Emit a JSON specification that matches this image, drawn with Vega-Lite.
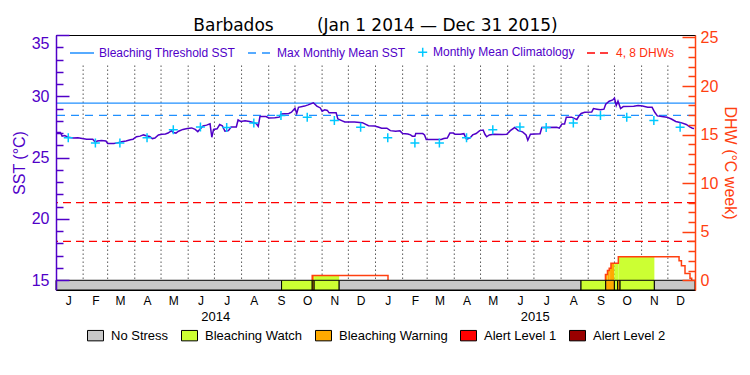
{
  "$schema": "https://vega.github.io/schema/vega-lite/v6.json",
  "width": 639,
  "height": 255,
  "autosize": {"type": "none"},
  "padding": {"left": 56, "top": 35, "right": 55, "bottom": 85},
  "title": {"text": "Barbados\u00a0\u00a0\u00a0\u00a0\u00a0\u00a0\u00a0\u00a0(Jan 1 2014 \u2014 Dec 31 2015)", "font": "DejaVu Sans", "fontSize": 17, "fontWeight": "normal", "color": "black", "anchor": "middle", "frame": "group", "baseline": "alphabetic", "offset": 6, "dy": 25},
  "datasets": {
    "sst": [
      {"date":"2014-01-01","sst":27.05},{"date":"2014-01-06","sst":27.05},{"date":"2014-01-08","sst":26.75},{"date":"2014-01-11","sst":26.8},{"date":"2014-01-15","sst":26.65},{"date":"2014-01-21","sst":26.6},{"date":"2014-01-26","sst":26.62},{"date":"2014-01-31","sst":26.55},{"date":"2014-02-05","sst":26.5},{"date":"2014-02-12","sst":26.5},{"date":"2014-02-15","sst":26.25},{"date":"2014-02-17","sst":26.35},{"date":"2014-02-22","sst":26.4},{"date":"2014-02-27","sst":26.35},{"date":"2014-03-01","sst":26.15},{"date":"2014-03-08","sst":26.15},{"date":"2014-03-12","sst":26.2},{"date":"2014-03-17","sst":26.3},{"date":"2014-03-22","sst":26.35},{"date":"2014-03-27","sst":26.45},{"date":"2014-03-30","sst":26.5},{"date":"2014-04-03","sst":26.7},{"date":"2014-04-07","sst":26.75},{"date":"2014-04-11","sst":26.85},{"date":"2014-04-14","sst":26.78},{"date":"2014-04-18","sst":26.72},{"date":"2014-04-21","sst":26.55},{"date":"2014-04-24","sst":26.6},{"date":"2014-04-28","sst":26.85},{"date":"2014-05-02","sst":26.9},{"date":"2014-05-06","sst":26.93},{"date":"2014-05-09","sst":27.0},{"date":"2014-05-13","sst":27.2},{"date":"2014-05-15","sst":27.05},{"date":"2014-05-18","sst":27.0},{"date":"2014-05-21","sst":27.15},{"date":"2014-05-26","sst":27.3},{"date":"2014-05-31","sst":27.38},{"date":"2014-06-05","sst":27.42},{"date":"2014-06-09","sst":27.3},{"date":"2014-06-12","sst":27.12},{"date":"2014-06-15","sst":27.35},{"date":"2014-06-18","sst":27.58},{"date":"2014-06-22","sst":27.65},{"date":"2014-06-26","sst":27.75},{"date":"2014-06-28","sst":26.66},{"date":"2014-06-30","sst":27.3},{"date":"2014-07-04","sst":27.35},{"date":"2014-07-07","sst":27.7},{"date":"2014-07-10","sst":27.6},{"date":"2014-07-13","sst":27.15},{"date":"2014-07-17","sst":27.2},{"date":"2014-07-20","sst":27.5},{"date":"2014-07-26","sst":27.5},{"date":"2014-07-28","sst":28.07},{"date":"2014-07-31","sst":27.95},{"date":"2014-08-05","sst":28.0},{"date":"2014-08-10","sst":27.95},{"date":"2014-08-15","sst":27.85},{"date":"2014-08-18","sst":27.75},{"date":"2014-08-20","sst":27.55},{"date":"2014-08-22","sst":28.35},{"date":"2014-08-29","sst":28.35},{"date":"2014-09-01","sst":28.23},{"date":"2014-09-08","sst":28.25},{"date":"2014-09-13","sst":28.3},{"date":"2014-09-15","sst":28.56},{"date":"2014-09-24","sst":28.6},{"date":"2014-09-27","sst":28.7},{"date":"2014-10-01","sst":29.02},{"date":"2014-10-03","sst":28.6},{"date":"2014-10-05","sst":29.1},{"date":"2014-10-12","sst":29.2},{"date":"2014-10-16","sst":29.3},{"date":"2014-10-22","sst":29.47},{"date":"2014-10-26","sst":29.2},{"date":"2014-10-30","sst":29.05},{"date":"2014-11-01","sst":28.78},{"date":"2014-11-04","sst":28.9},{"date":"2014-11-07","sst":28.85},{"date":"2014-11-09","sst":28.65},{"date":"2014-11-17","sst":28.65},{"date":"2014-11-19","sst":28.15},{"date":"2014-11-24","sst":28.0},{"date":"2014-11-27","sst":27.9},{"date":"2014-12-08","sst":27.9},{"date":"2014-12-17","sst":27.85},{"date":"2014-12-24","sst":27.6},{"date":"2014-12-31","sst":27.58},
      {"date":"2015-01-04","sst":27.5},{"date":"2015-01-08","sst":27.4},{"date":"2015-01-14","sst":27.4},{"date":"2015-01-18","sst":27.2},{"date":"2015-01-24","sst":27.15},{"date":"2015-01-29","sst":27.18},{"date":"2015-02-01","sst":26.96},{"date":"2015-02-07","sst":26.93},{"date":"2015-02-10","sst":26.85},{"date":"2015-02-12","sst":26.75},{"date":"2015-02-15","sst":26.75},{"date":"2015-02-16","sst":26.96},{"date":"2015-02-24","sst":26.96},{"date":"2015-02-26","sst":26.85},{"date":"2015-02-28","sst":26.47},{"date":"2015-03-17","sst":26.47},{"date":"2015-03-20","sst":26.55},{"date":"2015-03-24","sst":26.6},{"date":"2015-03-27","sst":27.0},{"date":"2015-03-31","sst":27.0},{"date":"2015-04-02","sst":26.9},{"date":"2015-04-08","sst":26.9},{"date":"2015-04-12","sst":26.95},{"date":"2015-04-15","sst":26.5},{"date":"2015-04-19","sst":26.6},{"date":"2015-04-22","sst":26.85},{"date":"2015-04-26","sst":26.96},{"date":"2015-04-30","sst":27.2},{"date":"2015-05-04","sst":27.25},{"date":"2015-05-06","sst":26.9},{"date":"2015-05-08","sst":26.7},{"date":"2015-05-11","sst":26.85},{"date":"2015-05-16","sst":26.9},{"date":"2015-05-26","sst":26.89},{"date":"2015-05-31","sst":26.9},{"date":"2015-06-04","sst":27.2},{"date":"2015-06-09","sst":27.45},{"date":"2015-06-13","sst":27.2},{"date":"2015-06-18","sst":27.1},{"date":"2015-06-22","sst":26.85},{"date":"2015-06-24","sst":26.42},{"date":"2015-06-27","sst":26.9},{"date":"2015-07-02","sst":26.93},{"date":"2015-07-08","sst":26.95},{"date":"2015-07-10","sst":27.45},{"date":"2015-07-27","sst":27.48},{"date":"2015-07-30","sst":27.4},{"date":"2015-08-02","sst":27.75},{"date":"2015-08-05","sst":27.75},{"date":"2015-08-07","sst":28.3},{"date":"2015-08-13","sst":28.3},{"date":"2015-08-16","sst":28.2},{"date":"2015-08-19","sst":28.1},{"date":"2015-08-21","sst":28.35},{"date":"2015-08-24","sst":28.6},{"date":"2015-08-28","sst":28.7},{"date":"2015-09-05","sst":28.72},{"date":"2015-09-07","sst":29.0},{"date":"2015-09-11","sst":28.95},{"date":"2015-09-15","sst":28.9},{"date":"2015-09-19","sst":28.95},{"date":"2015-09-21","sst":29.35},{"date":"2015-09-25","sst":29.6},{"date":"2015-09-29","sst":29.7},{"date":"2015-10-01","sst":29.86},{"date":"2015-10-03","sst":29.25},{"date":"2015-10-05","sst":29.6},{"date":"2015-10-08","sst":29.0},{"date":"2015-10-11","sst":29.16},{"date":"2015-10-23","sst":29.18},{"date":"2015-10-28","sst":29.25},{"date":"2015-11-02","sst":29.2},{"date":"2015-11-08","sst":29.1},{"date":"2015-11-13","sst":29.1},{"date":"2015-11-16","sst":28.7},{"date":"2015-11-19","sst":28.4},{"date":"2015-11-24","sst":28.35},{"date":"2015-11-30","sst":28.3},{"date":"2015-12-05","sst":28.15},{"date":"2015-12-10","sst":27.95},{"date":"2015-12-16","sst":27.85},{"date":"2015-12-22","sst":27.7},{"date":"2015-12-26","sst":27.5},{"date":"2015-12-29","sst":27.4},{"date":"2015-12-31","sst":27.38}
    ],
    "clim": [
      {"date":"2014-01-15","sst":26.62,"series":"Monthly Mean Climatology"},{"date":"2014-02-15","sst":26.2,"series":"Monthly Mean Climatology"},{"date":"2014-03-15","sst":26.2,"series":"Monthly Mean Climatology"},{"date":"2014-04-15","sst":26.62,"series":"Monthly Mean Climatology"},{"date":"2014-05-15","sst":27.27,"series":"Monthly Mean Climatology"},{"date":"2014-06-15","sst":27.5,"series":"Monthly Mean Climatology"},{"date":"2014-07-15","sst":27.45,"series":"Monthly Mean Climatology"},{"date":"2014-08-15","sst":27.83,"series":"Monthly Mean Climatology"},{"date":"2014-09-15","sst":28.44,"series":"Monthly Mean Climatology"},{"date":"2014-10-15","sst":28.29,"series":"Monthly Mean Climatology"},{"date":"2014-11-15","sst":28.02,"series":"Monthly Mean Climatology"},{"date":"2014-12-15","sst":27.48,"series":"Monthly Mean Climatology"},
      {"date":"2015-01-15","sst":26.62,"series":"Monthly Mean Climatology"},{"date":"2015-02-15","sst":26.2,"series":"Monthly Mean Climatology"},{"date":"2015-03-15","sst":26.2,"series":"Monthly Mean Climatology"},{"date":"2015-04-15","sst":26.62,"series":"Monthly Mean Climatology"},{"date":"2015-05-15","sst":27.27,"series":"Monthly Mean Climatology"},{"date":"2015-06-15","sst":27.5,"series":"Monthly Mean Climatology"},{"date":"2015-07-15","sst":27.45,"series":"Monthly Mean Climatology"},{"date":"2015-08-15","sst":27.83,"series":"Monthly Mean Climatology"},{"date":"2015-09-15","sst":28.44,"series":"Monthly Mean Climatology"},{"date":"2015-10-15","sst":28.29,"series":"Monthly Mean Climatology"},{"date":"2015-11-15","sst":28.02,"series":"Monthly Mean Climatology"},{"date":"2015-12-15","sst":27.48,"series":"Monthly Mean Climatology"}
    ],
    "thresholds": [
      {"series":"Bleaching Threshold SST","sst":29.44},
      {"series":"Max Monthly Mean SST","sst":28.44}
    ],
    "dhwlines": [
      {"series":"4, 8 DHWs","dhw":4},
      {"series":"4, 8 DHWs","dhw":8}
    ],
    "months": [
      {"date":"2014-02-01"},{"date":"2014-03-01"},{"date":"2014-04-01"},{"date":"2014-05-01"},{"date":"2014-06-01"},{"date":"2014-07-01"},{"date":"2014-08-01"},{"date":"2014-09-01"},{"date":"2014-10-01"},{"date":"2014-11-01"},{"date":"2014-12-01"},{"date":"2015-01-01"},{"date":"2015-02-01"},{"date":"2015-03-01"},{"date":"2015-04-01"},{"date":"2015-05-01"},{"date":"2015-06-01"},{"date":"2015-07-01"},{"date":"2015-08-01"},{"date":"2015-09-01"},{"date":"2015-10-01"},{"date":"2015-11-01"},{"date":"2015-12-01"}
    ],
    "dhw": [
      {"seg":"a","date":"2014-10-20T16:00:00Z","dhw":0},
      {"seg":"a","date":"2014-10-20T17:00:00Z","dhw":0.5},
      {"seg":"a","date":"2015-01-15T07:00:00Z","dhw":0},
      {"seg":"b","date":"2015-09-20T16:00:00Z","dhw":0},
      {"seg":"b","date":"2015-09-20T17:00:00Z","dhw":0.6},
      {"seg":"b","date":"2015-09-23T00:00:00Z","dhw":1.0},
      {"seg":"b","date":"2015-09-25T00:00:00Z","dhw":1.25},
      {"seg":"b","date":"2015-09-27T00:00:00Z","dhw":1.75},
      {"seg":"b","date":"2015-10-05T10:00:00Z","dhw":2.43},
      {"seg":"b","date":"2015-12-13T19:00:00Z","dhw":2.0},
      {"seg":"b","date":"2015-12-16T12:00:00Z","dhw":1.5},
      {"seg":"b","date":"2015-12-20T14:00:00Z","dhw":0.7},
      {"seg":"b","date":"2015-12-26T07:00:00Z","dhw":0.2},
      {"seg":"b","date":"2015-12-28T05:00:00Z","dhw":0}
    ],
    "dhwfill": [
      {"start":"2014-10-20T17:00:00Z","end":"2014-10-22T22:00:00Z","dhw":0.5,"status":"Bleaching Warning"},
      {"start":"2014-10-22T22:00:00Z","end":"2014-11-20T12:00:00Z","dhw":0.5,"status":"Bleaching Watch"},
      {"start":"2015-09-20T17:00:00Z","end":"2015-09-23T00:00:00Z","dhw":0.6,"status":"Bleaching Warning"},
      {"start":"2015-09-23T00:00:00Z","end":"2015-09-25T00:00:00Z","dhw":1.0,"status":"Bleaching Warning"},
      {"start":"2015-09-25T00:00:00Z","end":"2015-09-27T00:00:00Z","dhw":1.25,"status":"Bleaching Warning"},
      {"start":"2015-09-27T00:00:00Z","end":"2015-09-30T22:00:00Z","dhw":1.75,"status":"Bleaching Warning"},
      {"start":"2015-09-30T22:00:00Z","end":"2015-10-05T10:00:00Z","dhw":1.75,"status":"Bleaching Watch"},
      {"start":"2015-10-05T10:00:00Z","end":"2015-11-15T14:00:00Z","dhw":2.43,"status":"Bleaching Watch"}
    ],
    "status": [
      {"start":"2014-01-01T00:00:00Z","end":"2014-09-15T17:00:00Z","status":"No Stress"},
      {"start":"2014-09-15T17:00:00Z","end":"2014-10-20T17:00:00Z","status":"Bleaching Watch"},
      {"start":"2014-10-20T17:00:00Z","end":"2014-10-22T22:00:00Z","status":"Bleaching Warning"},
      {"start":"2014-10-22T22:00:00Z","end":"2014-11-20T12:00:00Z","status":"Bleaching Watch"},
      {"start":"2014-11-20T12:00:00Z","end":"2015-08-23T19:00:00Z","status":"No Stress"},
      {"start":"2015-08-23T19:00:00Z","end":"2015-09-21T00:00:00Z","status":"Bleaching Watch"},
      {"start":"2015-09-21T00:00:00Z","end":"2015-09-30T22:00:00Z","status":"Bleaching Warning"},
      {"start":"2015-09-30T22:00:00Z","end":"2015-10-04T17:00:00Z","status":"Bleaching Watch"},
      {"start":"2015-10-04T17:00:00Z","end":"2015-10-07T10:00:00Z","status":"Bleaching Warning"},
      {"start":"2015-10-07T10:00:00Z","end":"2015-11-15T14:00:00Z","status":"Bleaching Watch"},
      {"start":"2015-11-15T14:00:00Z","end":"2016-01-01T00:00:00Z","status":"No Stress"}
    ]
  },
  "layer": [
    {
      "layer": [
        {
          "data": {"name": "months"},
          "mark": {"type": "rule", "strokeDash": [1, 3], "color": "black", "strokeWidth": 1},
          "encoding": {
            "x": {"field": "date", "type": "temporal", "scale": {"type": "utc", "domain": [{"year": 2014, "month": 1, "date": 1, "utc": true}, {"year": 2016, "month": 1, "date": 1, "utc": true}]},
              "axis": {"orient": "bottom", "values": [
                {"year": 2014, "month": 1, "date": 15, "utc": true}, {"year": 2014, "month": 2, "date": 15, "utc": true}, {"year": 2014, "month": 3, "date": 15, "utc": true}, {"year": 2014, "month": 4, "date": 15, "utc": true}, {"year": 2014, "month": 5, "date": 15, "utc": true}, {"year": 2014, "month": 6, "date": 15, "utc": true}, {"year": 2014, "month": 7, "date": 15, "utc": true}, {"year": 2014, "month": 8, "date": 15, "utc": true}, {"year": 2014, "month": 9, "date": 15, "utc": true}, {"year": 2014, "month": 10, "date": 15, "utc": true}, {"year": 2014, "month": 11, "date": 15, "utc": true}, {"year": 2014, "month": 12, "date": 15, "utc": true},
                {"year": 2015, "month": 1, "date": 15, "utc": true}, {"year": 2015, "month": 2, "date": 15, "utc": true}, {"year": 2015, "month": 3, "date": 15, "utc": true}, {"year": 2015, "month": 4, "date": 15, "utc": true}, {"year": 2015, "month": 5, "date": 15, "utc": true}, {"year": 2015, "month": 6, "date": 15, "utc": true}, {"year": 2015, "month": 7, "date": 15, "utc": true}, {"year": 2015, "month": 8, "date": 15, "utc": true}, {"year": 2015, "month": 9, "date": 15, "utc": true}, {"year": 2015, "month": 10, "date": 15, "utc": true}, {"year": 2015, "month": 11, "date": 15, "utc": true}, {"year": 2015, "month": 12, "date": 15, "utc": true}],
                "labelExpr": "slice(utcFormat(datum.value, '%b'), 0, 1)", "ticks": false, "domain": false, "grid": false, "labelPadding": 5, "labelFont": "Liberation Sans", "labelFontSize": 12, "labelColor": "black", "labelFlush": false, "labelOverlap": false, "title": null}},
            "y": {"datum": 32.5, "type": "quantitative", "scale": {"domain": [14.2, 35], "nice": false, "zero": false}, "axis": null},
            "y2": {"datum": 15}
          }
        },
        {
          "data": {"name": "thresholds"},
          "mark": {"type": "rule", "strokeWidth": 1.2},
          "encoding": {
            "y": {"field": "sst", "type": "quantitative", "scale": {"domain": [14.2, 35], "nice": false, "zero": false},
              "axis": {"orient": "left", "values": [15, 20, 25, 30, 35], "tickSize": -13, "tickWidth": 1.5, "tickColor": "#5000c8", "domainColor": "#5000c8", "domainWidth": 1.5, "labelColor": "#5000c8", "labelFont": "Liberation Sans", "labelFontSize": 16, "labelPadding": 20, "labelFlush": true, "grid": false, "title": "SST (\u00b0C)", "titleColor": "#5000c8", "titleFont": "Liberation Sans", "titleFontSize": 16, "titleFontWeight": "normal", "titlePadding": 4, "zindex": 1}},
            "stroke": {"field": "series", "type": "nominal",
              "scale": {"domain": ["Bleaching Threshold SST", "Max Monthly Mean SST", "Monthly Mean Climatology", "4, 8 DHWs"], "range": ["#2090ff", "#2090ff", "#00c8ff", "#ff0000"]},
              "legend": {"orient": "none", "legendX": 13, "legendY": 4, "direction": "horizontal", "title": null, "symbolType": "stroke", "symbolSize": 576, "symbolStrokeWidth": 1.5, "labelFont": "Liberation Sans", "labelFontSize": 12, "labelColor": "#5000c8", "labelOffset": 4, "columnPadding": 9, "labelLimit": 300,
                "encode": {
                  "symbols": {"update": {
                    "shape": {"signal": "datum.value === 'Monthly Mean Climatology' ? 'M-0.9,0H-0.15M-0.525,-0.375V0.375' : 'stroke'"},
                    "strokeDash": {"signal": "datum.value === 'Max Monthly Mean SST' ? [7,5] : datum.value === '4, 8 DHWs' ? [9,8] : [1,0]"},
                    "fill": {"value": "transparent"}
                  }},
                  "labels": {"update": {
                    "fill": {"signal": "datum.value === '4, 8 DHWs' ? '#ff3010' : '#5000c8'"},
                    "dx": {"signal": "datum.value === 'Monthly Mean Climatology' ? -13 : 0"}
                  }}
                }
              }},
            "strokeDash": {"field": "series", "type": "nominal",
              "scale": {"domain": ["Bleaching Threshold SST", "Max Monthly Mean SST", "Monthly Mean Climatology", "4, 8 DHWs"], "range": [[1, 0], [8, 6], [1, 0], [8, 5]]},
              "legend": null}
          }
        },
        {
          "data": {"name": "sst"},
          "mark": {"type": "line", "color": "#5000c8", "strokeWidth": 1.5},
          "encoding": {
            "x": {"field": "date", "type": "temporal", "scale": {"type": "utc", "domain": [{"year": 2014, "month": 1, "date": 1, "utc": true}, {"year": 2016, "month": 1, "date": 1, "utc": true}]}, "axis": null},
            "y": {"field": "sst", "type": "quantitative", "scale": {"domain": [14.2, 35], "nice": false, "zero": false},
              "axis": {"orient": "left", "values": [16, 17, 18, 19, 21, 22, 23, 24, 26, 27, 28, 29, 31, 32, 33, 34], "tickSize": -7, "tickWidth": 1.5, "tickColor": "#5000c8", "labels": false, "domain": false, "grid": false, "title": null, "zindex": 1}}
          }
        },
        {
          "data": {"name": "clim"},
          "mark": {"type": "point", "shape": "M-1,0H1M0,-1V1", "filled": false, "size": 81, "strokeWidth": 1.5, "opacity": 1},
          "encoding": {
            "x": {"field": "date", "type": "temporal", "scale": {"type": "utc", "domain": [{"year": 2014, "month": 1, "date": 1, "utc": true}, {"year": 2016, "month": 1, "date": 1, "utc": true}]}, "axis": null},
            "y": {"field": "sst", "type": "quantitative", "scale": {"domain": [14.2, 35], "nice": false, "zero": false}, "axis": null},
            "stroke": {"field": "series", "type": "nominal", "scale": {"domain": ["Bleaching Threshold SST", "Max Monthly Mean SST", "Monthly Mean Climatology", "4, 8 DHWs"], "range": ["#2090ff", "#2090ff", "#00c8ff", "#ff0000"]}}
          }
        }
      ],
      "resolve": {"axis": {"x": "independent", "y": "independent"}}
    },
    {
      "layer": [
        {
          "data": {"name": "dhwfill"},
          "mark": {"type": "rect"},
          "encoding": {
            "x": {"field": "start", "type": "temporal", "scale": {"type": "utc", "domain": [{"year": 2014, "month": 1, "date": 1, "utc": true}, {"year": 2016, "month": 1, "date": 1, "utc": true}]},
              "axis": {"orient": "bottom", "values": [{"year": 2014, "month": 7, "date": 2, "utc": true}, {"year": 2015, "month": 7, "date": 2, "utc": true}], "labelExpr": "utcFormat(datum.value, '%Y')", "ticks": false, "domain": false, "grid": false, "labelPadding": 20, "labelFont": "Liberation Sans", "labelFontSize": 13, "labelColor": "black", "labelFlush": false, "title": null}},
            "x2": {"field": "end"},
            "y": {"field": "dhw", "type": "quantitative", "scale": {"domain": [-1, 25.25], "nice": false, "zero": false}, "axis": null},
            "y2": {"datum": 0},
            "fill": {"field": "status", "type": "nominal", "scale": {"domain": ["No Stress", "Bleaching Watch", "Bleaching Warning", "Alert Level 1", "Alert Level 2"], "range": ["#c8c8c8", "#ccff33", "#ffaa00", "#ff0000", "#990000"]},
              "legend": {"orient": "none", "legendX": 31, "legendY": 292, "direction": "horizontal", "title": null, "symbolType": "M-1,-0.65H1V0.65H-1Z", "symbolSize": 256, "symbolStrokeColor": "black", "symbolStrokeWidth": 1, "symbolOpacity": 1, "labelFont": "Liberation Sans", "labelFontSize": 13, "labelColor": "black", "labelOffset": 7, "columnPadding": 10, "labelLimit": 300}}
          }
        },
        {
          "data": {"name": "dhw"},
          "mark": {"type": "line", "interpolate": "step-after", "color": "#ff4010", "strokeWidth": 1.5},
          "encoding": {
            "x": {"field": "date", "type": "temporal", "scale": {"type": "utc", "domain": [{"year": 2014, "month": 1, "date": 1, "utc": true}, {"year": 2016, "month": 1, "date": 1, "utc": true}]}, "axis": null},
            "y": {"field": "dhw", "type": "quantitative", "scale": {"domain": [-1, 25.25], "nice": false, "zero": false},
              "axis": {"orient": "right", "values": [0, 5, 10, 15, 20, 25], "tickSize": -13, "tickWidth": 1.5, "tickColor": "#ff4010", "domainColor": "#ff4010", "domainWidth": 1.5, "labelColor": "#ff4010", "labelFont": "Liberation Sans", "labelFontSize": 16, "labelPadding": 18, "labelFlush": false, "grid": false, "title": "DHW (\u00b0C week)", "titleColor": "#ff4010", "titleFont": "Liberation Sans", "titleFontSize": 16, "titleFontWeight": "normal", "titlePadding": 4, "zindex": 1}},
            "detail": {"field": "seg", "type": "nominal"}
          }
        },
        {
          "data": {"name": "status"},
          "mark": {"type": "rect", "stroke": "black", "strokeWidth": 1},
          "encoding": {
            "x": {"field": "start", "type": "temporal", "scale": {"type": "utc", "domain": [{"year": 2014, "month": 1, "date": 1, "utc": true}, {"year": 2016, "month": 1, "date": 1, "utc": true}]}, "axis": null},
            "x2": {"field": "end"},
            "y": {"datum": 0, "type": "quantitative", "scale": {"domain": [-1, 25.25], "nice": false, "zero": false}, "axis": null},
            "y2": {"datum": -1},
            "fill": {"field": "status", "type": "nominal", "scale": {"domain": ["No Stress", "Bleaching Watch", "Bleaching Warning", "Alert Level 1", "Alert Level 2"], "range": ["#c8c8c8", "#ccff33", "#ffaa00", "#ff0000", "#990000"]}, "legend": null}
          }
        },
        {
          "data": {"name": "dhwlines"},
          "mark": {"type": "rule", "strokeWidth": 1.2},
          "encoding": {
            "y": {"field": "dhw", "type": "quantitative", "scale": {"domain": [-1, 25.25], "nice": false, "zero": false},
              "axis": {"orient": "right", "values": [1, 2, 3, 4, 6, 7, 8, 9, 11, 12, 13, 14, 16, 17, 18, 19, 21, 22, 23, 24], "tickSize": -7, "tickWidth": 1.5, "tickColor": "#ff4010", "labels": false, "domain": false, "grid": false, "title": null, "zindex": 1}},
            "stroke": {"field": "series", "type": "nominal", "scale": {"domain": ["Bleaching Threshold SST", "Max Monthly Mean SST", "Monthly Mean Climatology", "4, 8 DHWs"], "range": ["#2090ff", "#2090ff", "#00c8ff", "#ff0000"]}},
            "strokeDash": {"field": "series", "type": "nominal", "scale": {"domain": ["Bleaching Threshold SST", "Max Monthly Mean SST", "Monthly Mean Climatology", "4, 8 DHWs"], "range": [[1, 0], [8, 6], [1, 0], [8, 5]]}, "legend": null}
          }
        }
      ],
      "resolve": {"axis": {"x": "independent", "y": "independent"}}
    }
  ],
  "resolve": {"scale": {"y": "independent"}, "axis": {"x": "independent", "y": "independent"}},
  "config": {
    "view": {"stroke": "black", "strokeWidth": 1},
    "axis": {"grid": false},
    "background": "white"
  }
}
